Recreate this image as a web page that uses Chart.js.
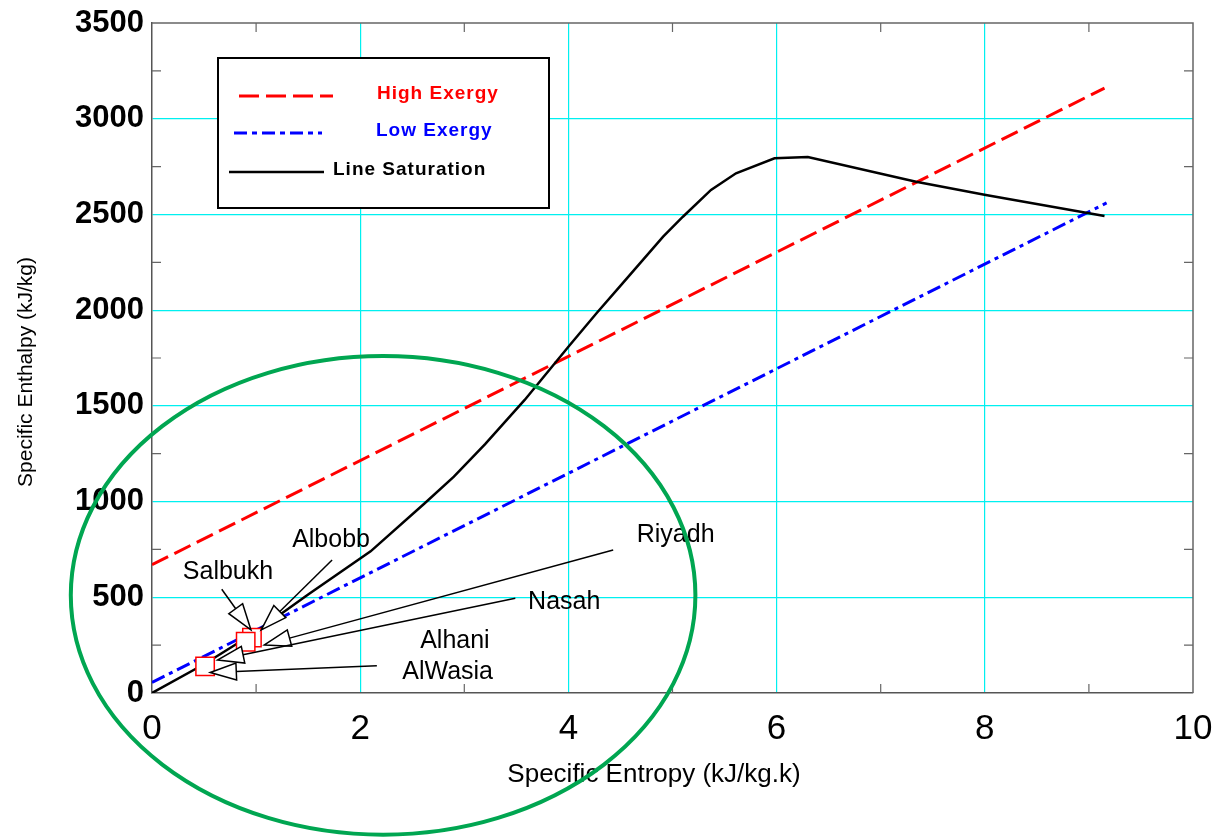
<!DOCTYPE html>
<html>
<head>
<meta charset="utf-8">
<title>Specific Enthalpy vs Specific Entropy</title>
<script src="https://cdn.jsdelivr.net/npm/chart.js@4.4.1/dist/chart.umd.min.js"></script>
<style>
    html, body { margin: 0; padding: 0; background: #fff; }
    #wrap { width: 1212px; height: 837px; }
</style>
</head>
<body>
<div id="wrap"><canvas id="hsChart" width="1212" height="837"></canvas></div>
<script>
// ---- data ----
const highExergyS = [0, 9.15];
const highExergyH = [670, 3160];

const lowExergyS = [0, 9.17];
const lowExergyH = [55, 2560];

const satS = [0, 0.5, 1.0, 1.5, 2.1, 2.62, 2.9, 3.2, 3.58, 4.0, 4.27, 4.52, 4.91, 5.1, 5.37, 5.61, 5.98, 6.3, 7.34, 8.01, 9.15];
const satH = [0, 150, 320, 515, 740, 991, 1130, 1300, 1531, 1809, 1984, 2140, 2384, 2488, 2628, 2715, 2793, 2800, 2671, 2602, 2492];

// measured sites (red squares)
const siteS = [0.96, 0.90, 0.51];
const siteH = [289, 268, 139];

// annotation labels and arrows
const labelNames = ['Salbukh', 'Albobb', 'Riyadh', 'Nasah', 'Alhani', 'AlWasia'];
const labelS     = [0.73, 1.72, 5.03, 3.96, 2.91, 2.84];
const labelH     = [632, 799, 825, 475, 272, 110];
const arrowFromS = [0.67, 1.73, 4.43, 3.49, null, 2.16];
const arrowFromH = [542, 695, 747, 495, null, 143];
const arrowToS   = [0.95, 1.05, 1.08, 0.63, null, 0.56];
const arrowToH   = [330, 330, 251, 172, null, 107];

// green ellipse: centre (S, h) and radii (S, h)
const ellipseCentre = [2.22, 510];
const ellipseRadii  = [3.0, 1250];

const legendItems = ['High Exergy', 'Low Exergy', 'Line Saturation'];
const xTitle = 'Specific Entropy (kJ/kg.k)';
const yTitle = 'Specific Enthalpy (kJ/kg)';

const FONT = "'Liberation Sans', Arial, sans-serif";

const toPoints = (xs, ys) => xs.map((x, i) => ({ x, y: ys[i] }));

// ---- helpers ----
function drawArrow(ctx, x1, y1, x2, y2) {
    const ang = Math.atan2(y2 - y1, x2 - x1);
    const len = 26, half = 8.5;
    const bx = x2 - len * Math.cos(ang), by = y2 - len * Math.sin(ang);
    ctx.beginPath();
    ctx.moveTo(x1, y1);
    ctx.lineTo(bx, by);
    ctx.stroke();
    ctx.beginPath();
    ctx.moveTo(x2, y2);
    ctx.lineTo(bx + half * Math.sin(ang), by - half * Math.cos(ang));
    ctx.lineTo(bx - half * Math.sin(ang), by + half * Math.cos(ang));
    ctx.closePath();
    ctx.fill();
    ctx.stroke();
}

const decorPlugin = {
    id: 'decor',
    afterDatasetsDraw(chart) {
        const { ctx, scales: { x, y } } = chart;
        ctx.save();
        // arrows
        ctx.strokeStyle = '#000';
        ctx.fillStyle = '#fff';
        ctx.lineWidth = 1.5;
        labelNames.forEach((_, i) => {
            if (arrowFromS[i] == null) return;
            drawArrow(ctx,
                x.getPixelForValue(arrowFromS[i]), y.getPixelForValue(arrowFromH[i]),
                x.getPixelForValue(arrowToS[i]), y.getPixelForValue(arrowToH[i]));
        });
        // labels
        ctx.fillStyle = '#000';
        ctx.font = `25px ${FONT}`;
        ctx.textAlign = 'center';
        ctx.textBaseline = 'middle';
        labelNames.forEach((name, i) => {
            ctx.fillText(name, x.getPixelForValue(labelS[i]), y.getPixelForValue(labelH[i]));
        });
        ctx.restore();
    },
    afterDraw(chart) {
        const { ctx, chartArea: a, scales: { x, y } } = chart;
        ctx.save();

        // frame (top / right) + inward minor ticks
        ctx.strokeStyle = '#666';
        ctx.lineWidth = 1.5;
        ctx.beginPath();
        ctx.moveTo(a.left, a.top);
        ctx.lineTo(a.right, a.top);
        ctx.lineTo(a.right, a.bottom);
        ctx.stroke();
        ctx.lineWidth = 1.2;
        ctx.beginPath();
        for (let v = 1; v < 10; v += 2) {
            const px = x.getPixelForValue(v);
            ctx.moveTo(px, a.bottom); ctx.lineTo(px, a.bottom - 9);
            ctx.moveTo(px, a.top);    ctx.lineTo(px, a.top + 9);
        }
        for (let v = 250; v < 3500; v += 500) {
            const py = y.getPixelForValue(v);
            ctx.moveTo(a.left, py);  ctx.lineTo(a.left + 9, py);
            ctx.moveTo(a.right, py); ctx.lineTo(a.right - 9, py);
        }
        ctx.stroke();

        // axis titles (placed like the original, slightly off-centre)
        ctx.fillStyle = '#000';
        ctx.textAlign = 'center';
        ctx.textBaseline = 'middle';
        ctx.font = `26px ${FONT}`;
        ctx.fillText(xTitle, 654, 775);
        ctx.save();
        ctx.translate(26, 372);
        ctx.rotate(-Math.PI / 2);
        ctx.font = `21px ${FONT}`;
        ctx.fillText(yTitle, 0, 0);
        ctx.restore();

        // legend box
        ctx.fillStyle = '#fff';
        ctx.fillRect(218, 58, 331, 150);
        ctx.strokeStyle = '#000';
        ctx.lineWidth = 2;
        ctx.strokeRect(218, 58, 331, 150);

        const rows = [
            { y: 96,  x0: 239, x1: 333, color: '#ff0000', dash: [20, 7], tx: 377 },
            { y: 133, x0: 234, x1: 322, color: '#0000ff', dash: [13, 5, 5, 5], tx: 376 },
            { y: 172, x0: 229, x1: 324, color: '#000000', dash: [], tx: 333 },
        ];
        ctx.font = `bold 19px ${FONT}`;
        ctx.letterSpacing = '1px';
        ctx.textAlign = 'left';
        rows.forEach((r, i) => {
            ctx.strokeStyle = r.color;
            ctx.lineWidth = i === 2 ? 2.5 : 3;
            ctx.setLineDash(r.dash);
            ctx.beginPath();
            ctx.moveTo(r.x0, r.y);
            ctx.lineTo(r.x1, r.y);
            ctx.stroke();
            ctx.fillStyle = r.color;
            ctx.fillText(legendItems[i], r.tx, r.y - 2);
        });
        ctx.setLineDash([]);
        ctx.letterSpacing = '0px';

        // green ellipse, drawn on top and not clipped
        const cx = x.getPixelForValue(ellipseCentre[0]);
        const cy = y.getPixelForValue(ellipseCentre[1]);
        const rx = Math.abs(x.getPixelForValue(ellipseCentre[0] + ellipseRadii[0]) - cx);
        const ry = Math.abs(y.getPixelForValue(ellipseCentre[1] + ellipseRadii[1]) - cy);
        ctx.strokeStyle = '#00a651';
        ctx.lineWidth = 4;
        ctx.beginPath();
        ctx.ellipse(cx, cy, rx, ry, 0, 0, Math.PI * 2);
        ctx.stroke();

        ctx.restore();
    },
};

const gridColor = (last) => ctx =>
    (ctx.tick && (ctx.tick.value === 0 || ctx.tick.value === last)) ? 'rgba(0,0,0,0)' : '#00f0f0';

new Chart(document.getElementById('hsChart'), {
    type: 'scatter',
    data: {
        datasets: [
            {
                label: 'Sites',
                data: toPoints(siteS, siteH),
                pointStyle: 'rect',
                pointRadius: 13,
                pointBorderColor: '#ff0000',
                pointBackgroundColor: '#ffffff',
                pointBorderWidth: 1.5,
                showLine: false,
                order: 0,
            },
            {
                label: 'Line Saturation',
                data: toPoints(satS, satH),
                showLine: true,
                borderColor: '#000',
                borderWidth: 2.5,
                pointRadius: 0,
                tension: 0,
                order: 1,
            },
            {
                label: 'Low Exergy',
                data: toPoints(lowExergyS, lowExergyH),
                showLine: true,
                borderColor: '#0000ff',
                borderWidth: 3,
                borderDash: [14, 5, 4, 5],
                pointRadius: 0,
                order: 2,
            },
            {
                label: 'High Exergy',
                data: toPoints(highExergyS, highExergyH),
                showLine: true,
                borderColor: '#ff0000',
                borderWidth: 3,
                borderDash: [18, 7],
                pointRadius: 0,
                order: 3,
            },
        ],
    },
    options: {
        responsive: false,
        animation: false,
        layout: { padding: { top: 23, right: 19, left: 0, bottom: 0 } },
        plugins: {
            legend: { display: false },
            tooltip: { enabled: false },
        },
        scales: {
            x: {
                type: 'linear',
                min: 0, max: 10,
                afterFit: s => { s.height = 144; s.paddingLeft = 0; s.paddingRight = 0; },
                ticks: {
                    stepSize: 2,
                    color: '#000',
                    padding: 15,
                    callback: v => String(v),
                    font: { family: FONT, size: 35, lineHeight: 1.2 },
                },
                grid: { color: gridColor(10), lineWidth: 1.2, drawTicks: false },
                border: { color: '#555', width: 1.5 },
                title: { display: false },
            },
            y: {
                type: 'linear',
                min: 0, max: 3500,
                afterFit: s => { s.width = 152; s.paddingTop = 0; s.paddingBottom = 0; },
                ticks: {
                    stepSize: 500,
                    color: '#000',
                    padding: 8,
                    callback: v => String(v),
                    font: { family: FONT, size: 31, weight: 'bold', lineHeight: 1.2 },
                },
                grid: { color: gridColor(3500), lineWidth: 1.2, drawTicks: false },
                border: { color: '#555', width: 1.5 },
                title: { display: false },
            },
        },
    },
    plugins: [decorPlugin],
});
</script>
</body>
</html>
